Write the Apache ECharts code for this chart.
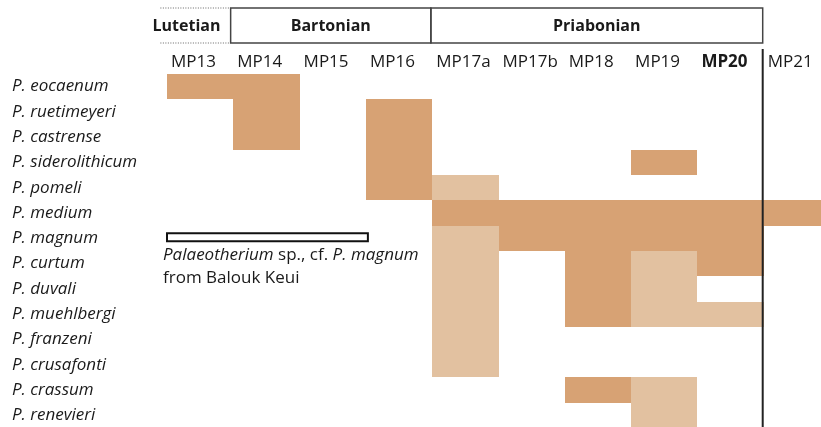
<!DOCTYPE html>
<html>
<head>
<meta charset="utf-8">
<script src="https://cdn.jsdelivr.net/npm/echarts@6/dist/echarts.min.js"></script>
<style>
html,body{margin:0;padding:0;background:#fff;}
#chart{width:821px;height:427px;}
</style>
</head>
<body>
<div id="chart"></div>
<script>
// ---- data ----
const species = ['P. eocaenum','P. ruetimeyeri','P. castrense','P. siderolithicum','P. pomeli','P. medium','P. magnum','P. curtum','P. duvali','P. muehlbergi','P. franzeni','P. crusafonti','P. crassum','P. renevieri'];
const zones = ['MP13','MP14','MP15','MP16','MP17a','MP17b','MP18','MP19','MP20','MP21'];
const stages = ['Lutetian','Bartonian','Priabonian'];
const stageFrom = [-0.1, 0.96, 3.98];
const stageTo = [0.96, 3.98, 8.985];
const boundaryAt = 8.985; // MP20 / MP21 boundary
// ranges: [species, first zone, last zone]
const darkRanges = [
  ['P. eocaenum','MP13','MP14'],
  ['P. ruetimeyeri','MP14','MP14'],
  ['P. ruetimeyeri','MP16','MP16'],
  ['P. castrense','MP14','MP14'],
  ['P. castrense','MP16','MP16'],
  ['P. siderolithicum','MP16','MP16'],
  ['P. siderolithicum','MP19','MP19'],
  ['P. pomeli','MP16','MP16'],
  ['P. medium','MP17a','MP21'],
  ['P. magnum','MP17b','MP20'],
  ['P. curtum','MP18','MP18'],
  ['P. curtum','MP20','MP20'],
  ['P. duvali','MP18','MP18'],
  ['P. muehlbergi','MP18','MP18'],
  ['P. crassum','MP18','MP18']
];
const lightRanges = [
  ['P. pomeli','MP17a','MP17a'],
  ['P. magnum','MP17a','MP17a'],
  ['P. curtum','MP17a','MP17a'],
  ['P. curtum','MP19','MP19'],
  ['P. duvali','MP17a','MP17a'],
  ['P. duvali','MP19','MP19'],
  ['P. muehlbergi','MP17a','MP17a'],
  ['P. muehlbergi','MP19','MP20'],
  ['P. franzeni','MP17a','MP17a'],
  ['P. crusafonti','MP17a','MP17a'],
  ['P. crassum','MP19','MP19'],
  ['P. renevieri','MP19','MP19']
];
const noteSpecies = 'P. magnum';
const noteFrom = 0;
const noteTo = 3.03;
const noteText = '{i|Palaeotherium} sp., cf. {i|P. magnum}\nfrom Balouk Keui';

// ---- style ----
const DARK = '#D7A274';
const LIGHT = '#E2C1A0';
const FONT = 'Open Sans';

function toItems(ranges, kind) {
  return ranges.map(r => [zones.indexOf(r[1]), zones.indexOf(r[2]) + 1, species.indexOf(r[0]), kind]);
}
const rangeData = toItems(darkRanges, 0).concat(toItems(lightRanges, 1));

const chart = echarts.init(document.getElementById('chart'), null, {renderer: 'canvas'});

function renderRange(params, api) {
  const a = api.coord([api.value(0), api.value(2)]);
  const b = api.coord([api.value(1), api.value(2)]);
  const h = api.size([0, 1])[1];
  const c = api.value(3) === 0 ? DARK : LIGHT;
  const x0 = Math.round(a[0]), x1 = Math.round(b[0]);
  const y0 = Math.round(a[1] - h / 2), y1 = Math.round(a[1] + h / 2);
  return {
    type: 'rect',
    shape: {x: x0, y: y0, width: x1 - x0, height: y1 - y0},
    style: {fill: c}
  };
}

function renderStage(params, api) {
  const i = params.dataIndex;
  const x0 = api.coord([api.value(0), 0])[0];
  const x1 = api.coord([api.value(1), 0])[0];
  const top = 8, bottom = 43;
  const children = [];
  if (i === 0) {
    children.push({type: 'line', shape: {x1: x0, y1: top, x2: x1, y2: top}, style: {stroke: '#666', lineWidth: 1.2, lineDash: [1, 1.5]}});
    children.push({type: 'line', shape: {x1: x0, y1: bottom, x2: x1, y2: bottom}, style: {stroke: '#666', lineWidth: 1.2, lineDash: [1, 1.5]}});
  } else {
    children.push({type: 'rect', shape: {x: x0, y: top, width: x1 - x0, height: bottom - top}, style: {fill: 'none', stroke: '#444', lineWidth: 1.5}});
  }
  const shift = i === 0 ? -9 : 0;
  children.push({type: 'text', style: {x: (x0 + x1) / 2 + shift, y: (top + bottom) / 2 + 1, text: stages[i], fontFamily: FONT, fontSize: 16, fontWeight: 'bold', fill: '#1a1a1a', align: 'center', verticalAlign: 'middle'}});
  return {type: 'group', children: children};
}

function renderBoundary(params, api) {
  const x = api.coord([api.value(0), 0])[0];
  const last = api.coord([0, species.length - 1])[1];
  const h = api.size([0, 1])[1];
  return {type: 'line', shape: {x1: x, y1: 49, x2: x, y2: last + h / 2 + 2}, style: {stroke: '#222', lineWidth: 2}};
}

function renderNote(params, api) {
  const a = api.coord([api.value(0), api.value(2)]);
  const b = api.coord([api.value(1), api.value(2)]);
  return {type: 'group', children: [
    {type: 'rect', shape: {x: a[0], y: a[1] - 5, width: b[0] - a[0], height: 8}, style: {fill: '#fff', stroke: '#111', lineWidth: 2}},
    {type: 'text', style: {x: a[0] - 4, y: a[1] + 5, text: noteText, fontFamily: FONT, fontSize: 17, lineHeight: 23, fill: '#1a1a1a', align: 'left', verticalAlign: 'top',
      rich: {i: {fontFamily: FONT, fontSize: 17, lineHeight: 23, fontStyle: 'italic', fill: '#1a1a1a'}}}}
  ]};
}

chart.setOption({
  animation: false,
  backgroundColor: '#fff',
  grid: {left: 167, top: 74, width: 663, height: 354, containLabel: false, outerBoundsMode: 'none'},
  xAxis: {
    type: 'value', position: 'top', min: 0, max: 10, interval: 1,
    axisLine: {show: false}, axisTick: {show: false}, splitLine: {show: false},
    axisLabel: {
      show: true, margin: 3, align: 'left', padding: [0, 0, 0, 4],
      fontFamily: FONT, fontSize: 17, color: '#1a1a1a',
      formatter: v => {
        const z = zones[v];
        if (!z) return '';
        return v === 8 ? '{b|' + z + '}' : z;
      },
      rich: {b: {fontFamily: FONT, fontSize: 17, fontWeight: 'bold', color: '#1a1a1a'}}
    }
  },
  yAxis: {
    type: 'category', data: species, inverse: true,
    axisLine: {show: false}, axisTick: {show: false}, splitLine: {show: false},
    axisLabel: {margin: 155, align: 'left', fontFamily: FONT, fontSize: 17, fontStyle: 'italic', color: '#1a1a1a', interval: 0}
  },
  series: [
    {type: 'custom', name: 'ranges', renderItem: renderRange, data: rangeData, encode: {x: [0, 1], y: 2}, clip: false, silent: true},
    {type: 'custom', name: 'note', renderItem: renderNote, data: [[noteFrom, noteTo, species.indexOf(noteSpecies)]], encode: {x: [0, 1], y: 2}, clip: false, silent: true},
    {type: 'custom', name: 'stages', renderItem: renderStage, data: stages.map((s, i) => [stageFrom[i], stageTo[i], 0]), encode: {x: [0, 1], y: 2}, clip: false, silent: true},
    {type: 'custom', name: 'boundary', renderItem: renderBoundary, data: [[boundaryAt, 0]], encode: {x: 0, y: 1}, clip: false, silent: true}
  ]
});
</script>
</body>
</html>
